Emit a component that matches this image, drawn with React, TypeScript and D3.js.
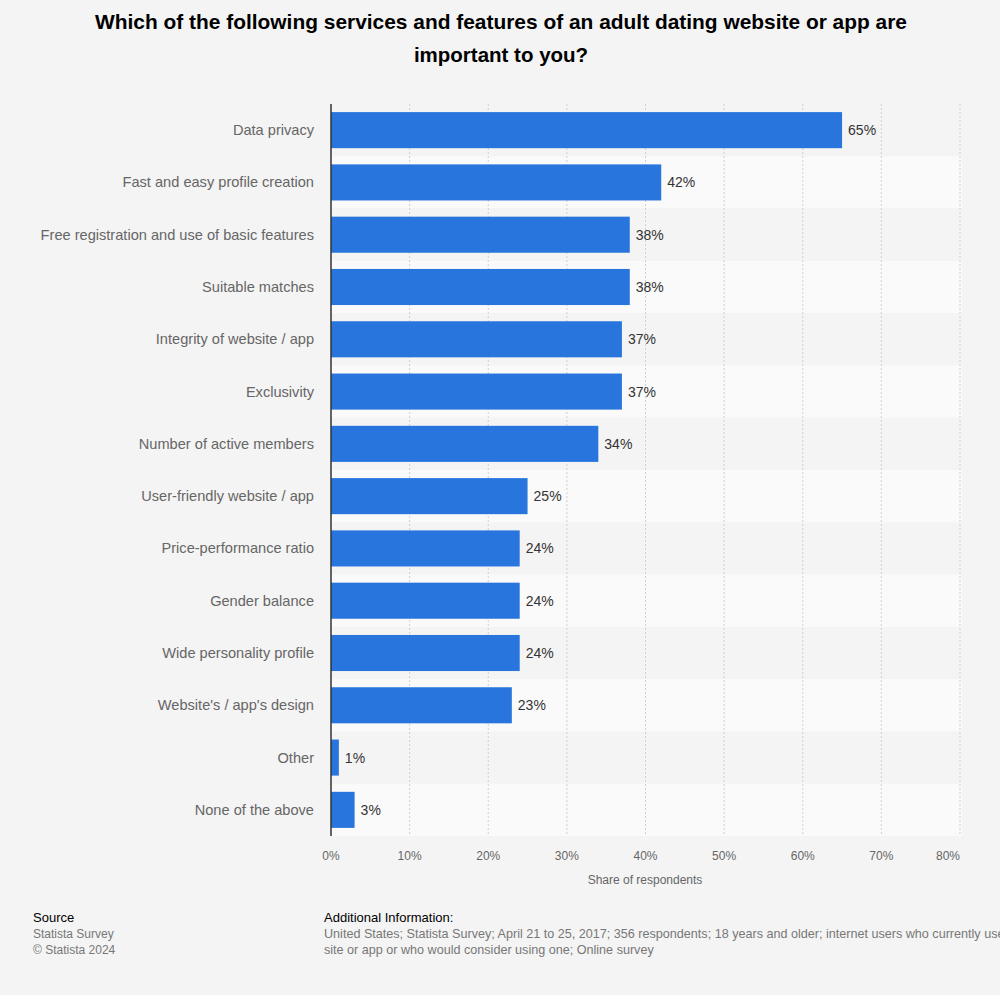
import React from "react";
import * as d3 from "d3";

const categories = [
  "Data privacy",
  "Fast and easy profile creation",
  "Free registration and use of basic features",
  "Suitable matches",
  "Integrity of website / app",
  "Exclusivity",
  "Number of active members",
  "User-friendly website / app",
  "Price-performance ratio",
  "Gender balance",
  "Wide personality profile",
  "Website's / app's design",
  "Other",
  "None of the above",
];
const values = [65, 42, 38, 38, 37, 37, 34, 25, 24, 24, 24, 23, 1, 3];
const ticks = [0, 10, 20, 30, 40, 50, 60, 70, 80];

const W = 1000;
const H = 995;
const left = 331;
const right = 960;
const top = 104;
const bottom = 836;
const font = "'Liberation Sans', Arial, Helvetica, sans-serif";

export default function App() {
  const x = d3.scaleLinear().domain([0, 80]).range([left, right]);
  const band = d3.scaleBand<string>().domain(categories).range([top, bottom]).paddingInner(0).paddingOuter(0);
  const rowH = band.bandwidth();
  const barH = rowH * 0.69;
  return (
    <svg width={W} height={H} style={{ position: "absolute", left: 0, top: 0, background: "#f4f4f4" }} fontFamily={font}>
      <rect x={0} y={0} width={W} height={H} fill="#f4f4f4" />
      <text x={501} y={29} textAnchor="middle" fontSize={20.5} fontWeight="bold" fill="#000" textLength={812} lengthAdjust="spacingAndGlyphs">
        Which of the following services and features of an adult dating website or app are
      </text>
      <text x={501} y={62} textAnchor="middle" fontSize={20.5} fontWeight="bold" fill="#000">
        important to you?
      </text>
      {categories.map((c, i) => (
        <rect key={"bg" + c} x={left} y={band(c)!} width={right - left + 2} height={rowH} fill={i % 2 === 1 ? "#fafafa" : "#f4f4f4"} />
      ))}
      {ticks.map((t) =>
        t === 0 ? null : (
          <line key={"g" + t} x1={x(t)} x2={x(t)} y1={top} y2={bottom} stroke="#cfcfcf" strokeDasharray="2,2" strokeWidth={1} />
        )
      )}
      {categories.map((c, i) => {
        const y0 = band(c)! + (rowH - barH) / 2;
        return (
          <g key={c}>
            <rect x={x(0)} y={y0} width={x(values[i]) - x(0)} height={barH} fill="#2876dd" />
            <text x={x(values[i]) + 6} y={y0 + barH / 2 + 5} fontSize={14} fill="#333">
              {values[i]}%
            </text>
            <text x={314} y={y0 + barH / 2 + 5} fontSize={14.6} fill="#666" textAnchor="end">
              {c}
            </text>
          </g>
        );
      })}
      <line x1={left} x2={left} y1={top} y2={bottom} stroke="#333" strokeWidth={1.5} />
      {ticks.map((t, i) => (
        <text key={"t" + t} x={i === ticks.length - 1 ? x(t) : x(t)} y={860} fontSize={12} fill="#666" textAnchor={i === ticks.length - 1 ? "end" : "middle"}>
          {t}%
        </text>
      ))}
      <text x={645} y={884} fontSize={12} fill="#666" textAnchor="middle">
        Share of respondents
      </text>
      <text x={33} y={922} fontSize={13} fill="#000">Source</text>
      <text x={33} y={938} fontSize={12} fill="#777">Statista Survey</text>
      <text x={33} y={954} fontSize={12} fill="#777">© Statista 2024</text>
      <text x={324} y={922} fontSize={13} fill="#000">Additional Information:</text>
      <text x={324} y={938} fontSize={12.6} fill="#777">
        United States; Statista Survey; April 21 to 25, 2017; 356 respondents; 18 years and older; internet users who currently use a dating web
      </text>
      <text x={324} y={954} fontSize={12.6} fill="#777">
        site or app or who would consider using one; Online survey
      </text>
    </svg>
  );
}
